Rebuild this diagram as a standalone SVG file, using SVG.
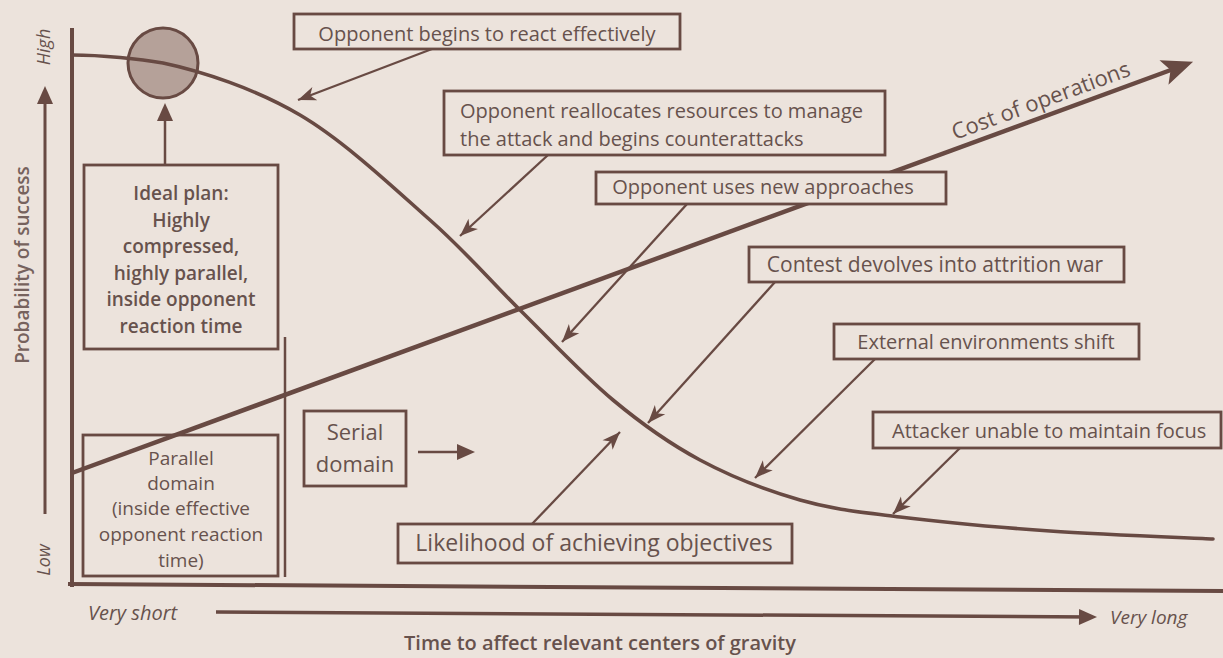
<svg xmlns="http://www.w3.org/2000/svg" width="1223" height="658" viewBox="0 0 1223 658">
  <defs>
    <style>
      .bg { fill: #ece3dc; }
      .box { fill: #ece3dc; stroke: #684a43; stroke-width: 2.8; }
      .open { fill: none; stroke: #684a43; stroke-width: 2.8; }
      .lbl { font-family: "Open Sans", "Noto Sans", sans-serif; font-size: 20px; fill: #67524d; }
      .mid { text-anchor: middle; }
      .semi { font-weight: 600; }
      .ital { font-style: italic; }
      .axis { stroke: #684a43; stroke-width: 4; fill: none; stroke-linecap: square; }
      .ptr { stroke: #684a43; stroke-width: 2.3; fill: none; }
      .curve { stroke: #684a43; stroke-width: 3.6; fill: none; stroke-linecap: round; }
      .cost { stroke: #684a43; stroke-width: 4.5; fill: none; }
      .head { fill: #684a43; }
    </style>
    <marker id="ah" viewBox="-19 -8 20 16" markerWidth="20" markerHeight="16" refX="0" refY="0" orient="auto" markerUnits="userSpaceOnUse">
      <path class="head" d="M0,0 L-18,-7 L-13,0 L-18,7 Z"/>
    </marker>
    <marker id="ahMid" viewBox="-14 -9 20 18" markerWidth="20" markerHeight="18" refX="0" refY="0" orient="auto" markerUnits="userSpaceOnUse">
      <path class="head" d="M5,0 L-13,-8 L-13,8 Z"/>
    </marker>
    <marker id="ahBig" viewBox="-17 -14 33 28" markerWidth="33" markerHeight="28" refX="0" refY="0" orient="auto" markerUnits="userSpaceOnUse">
      <path class="head" d="M15,0 L-16,-13 L-9,0 L-16,13 Z"/>
    </marker>
  </defs>

  <rect class="bg" x="0" y="0" width="1223" height="658"/>

  <!-- axes and axis captions -->
  <g id="axes">
    <line class="axis" x1="72" y1="30" x2="72" y2="585"/>
    <line class="axis" x1="70" y1="584" x2="1223" y2="591"/>
    <line class="ptr" x1="45" y1="514" x2="45" y2="91" style="stroke-width:3" marker-end="url(#ahMid)"/>
    <text class="lbl semi mid" transform="translate(29,265) rotate(-90)" style="font-size:19px;fill:#76625d">Probability of success</text>
    <text class="lbl ital mid" transform="translate(50,47) rotate(-90)" style="font-size:18px">High</text>
    <text class="lbl ital mid" transform="translate(50,560) rotate(-90)" style="font-size:18px">Low</text>
    <line class="ptr" x1="216" y1="612" x2="1092" y2="617" style="stroke-width:3.5" marker-end="url(#ahMid)"/>
    <text class="lbl ital" x="88" y="620">Very short</text>
    <text class="lbl ital" x="1110" y="624" style="font-size:19px">Very long</text>
    <text class="lbl semi mid" x="600" y="650">Time to affect relevant centers of gravity</text>
  </g>

  <!-- parallel domain sits under the cost line -->
  <g id="node-parallel">
    <rect class="open" x="83" y="435" width="195" height="141"/>
    <text class="lbl mid" style="font-size:19px" x="181" y="465">Parallel</text>
    <text class="lbl mid" style="font-size:19px" x="181" y="490">domain</text>
    <text class="lbl mid" style="font-size:19px" x="181" y="515">(inside effective</text>
    <text class="lbl mid" style="font-size:19px" x="181" y="541">opponent reaction</text>
    <text class="lbl mid" style="font-size:19px" x="181" y="567">time)</text>
  </g>

  <g id="node-ideal-point">
    <circle cx="163" cy="63" r="35" fill="#b5a199" stroke="#684a43" stroke-width="3"/>
  </g>

  <!-- curves, divider and pointer arrows -->
  <g id="connectors">
    <line class="ptr" x1="285" y1="337" x2="285" y2="577" style="stroke-width:2.5"/>
    <path id="likelihood-curve" class="curve" d="M72,55 C102,55 140,59 163,63 C201,71 255.5,88.8 300,115 C344.5,141.2 393.3,187.5 430,220 C466.7,252.5 489.5,280 520,310 C550.5,340 583,375 613,400 C643,425 668.8,443.3 700,460 C731.2,476.7 766.7,490.5 800,500 C833.3,509.5 858.3,511.8 900,517 C941.7,522.2 997.8,527.3 1050,531 C1102.2,534.7 1185.8,537.7 1213,539"/>
    <line id="cost-line" class="cost" x1="72" y1="473" x2="1179" y2="67" marker-end="url(#ahBig)"/>
    <line class="ptr" x1="432" y1="49" x2="298" y2="100" marker-end="url(#ah)"/>
    <line class="ptr" x1="548" y1="155" x2="460" y2="236" marker-end="url(#ah)"/>
    <line class="ptr" x1="687" y1="204" x2="562" y2="342" marker-end="url(#ah)"/>
    <line class="ptr" x1="775" y1="282" x2="648" y2="423" marker-end="url(#ah)"/>
    <line class="ptr" x1="875" y1="359" x2="755" y2="478" marker-end="url(#ah)"/>
    <line class="ptr" x1="960" y1="448" x2="893" y2="514" marker-end="url(#ah)"/>
    <line class="ptr" x1="532" y1="524" x2="620" y2="432" marker-end="url(#ah)"/>
    <line class="ptr" x1="165" y1="165" x2="165" y2="108" style="stroke-width:2.5" marker-end="url(#ahMid)"/>
    <line class="ptr" x1="418" y1="452" x2="470" y2="452" style="stroke-width:2.5" marker-end="url(#ahMid)"/>
    <text class="lbl" style="font-size:22px" transform="translate(955,140) rotate(-20.1)">Cost of operations</text>
  </g>

  <g id="node-ideal-plan">
    <rect class="box" x="84" y="165" width="194" height="184"/>
    <text class="lbl semi mid" style="font-size:19px" x="181" y="200">Ideal plan:</text>
    <text class="lbl semi mid" style="font-size:19px" x="181" y="227">Highly</text>
    <text class="lbl semi mid" style="font-size:19px" x="181" y="253">compressed,</text>
    <text class="lbl semi mid" style="font-size:19px" x="181" y="280">highly parallel,</text>
    <text class="lbl semi mid" style="font-size:19px" x="181" y="306">inside opponent</text>
    <text class="lbl semi mid" style="font-size:19px" x="181" y="333">reaction time</text>
  </g>

  <g id="node-serial">
    <rect class="box" x="304" y="411" width="102" height="75"/>
    <text class="lbl mid" style="font-size:22px" x="355" y="440">Serial</text>
    <text class="lbl mid" style="font-size:22px" x="355" y="472">domain</text>
  </g>

  <g id="node-react">
    <rect class="box" x="294" y="14" width="386" height="35"/>
    <text class="lbl mid" x="487" y="41">Opponent begins to react effectively</text>
  </g>

  <g id="node-reallocate">
    <rect class="box" x="444" y="91" width="441" height="64"/>
    <text class="lbl" x="460" y="118">Opponent reallocates resources to manage</text>
    <text class="lbl" x="460" y="146">the attack and begins counterattacks</text>
  </g>

  <g id="node-new-approaches">
    <rect class="box" x="596" y="172" width="350" height="32"/>
    <text class="lbl mid" x="763" y="194">Opponent uses new approaches</text>
  </g>

  <g id="node-attrition">
    <rect class="box" x="749" y="247" width="375" height="35"/>
    <text class="lbl mid" style="font-size:21px" x="935" y="272">Contest devolves into attrition war</text>
  </g>

  <g id="node-environment">
    <rect class="box" x="834" y="324" width="305" height="35"/>
    <text class="lbl mid" x="986" y="349">External environments shift</text>
  </g>

  <g id="node-focus">
    <rect class="box" x="873" y="412" width="348" height="36"/>
    <text class="lbl" x="892" y="438">Attacker unable to maintain focus</text>
  </g>

  <g id="node-objectives">
    <rect class="box" x="398" y="524" width="394" height="39"/>
    <text class="lbl mid" style="font-size:23px" x="594" y="551">Likelihood of achieving objectives</text>
  </g>
</svg>
